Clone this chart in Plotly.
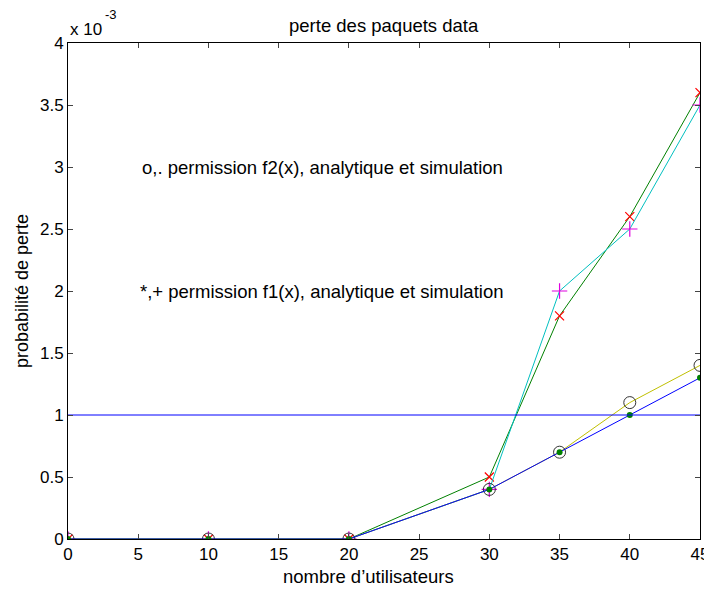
import plotly.graph_objects as go

# nombre d'utilisateurs
users = [0, 10, 20, 30, 35, 40, 45]

# probabilité de perte, en unités de 1e-3
f1_analytique = [0, 0, 0, 0.5, 1.8, 2.6, 3.6]
f1_simulation = [0, 0, 0, 0.4, 2.0, 2.5, 3.5]
f2_analytique = [0, 0, 0, 0.4, 0.7, 1.1, 1.4]
f2_simulation = [0, 0, 0, 0.4, 0.7, 1.0, 1.3]

seuil_x = [0, 45]
seuil_y = [1, 1]

x_ticks = [0, 5, 10, 15, 20, 25, 30, 35, 40, 45]
y_ticks = [0, 0.5, 1, 1.5, 2, 2.5, 3, 3.5, 4]

FONT = "Liberation Sans, Arial, sans-serif"

fig = go.Figure()

fig.add_trace(go.Scatter(
    x=users, y=f1_analytique, mode="lines+markers",
    line=dict(color="#008000", width=1),
    marker=dict(symbol="x-thin", size=9, color="red",
                line=dict(color="red", width=1.2)),
))
fig.add_trace(go.Scatter(
    x=users, y=f1_simulation, mode="lines+markers",
    line=dict(color="#00bfbf", width=1),
    marker=dict(symbol="cross-thin", size=11, color="#e000e0",
                line=dict(color="#e000e0", width=1.2)),
))
fig.add_trace(go.Scatter(
    x=users, y=f2_analytique, mode="lines+markers",
    line=dict(color="#bfbf00", width=1),
    marker=dict(symbol="circle-open", size=12, color="#333333",
                line=dict(color="#333333", width=1)),
))
fig.add_trace(go.Scatter(
    x=users, y=f2_simulation, mode="lines+markers",
    line=dict(color="#0000ff", width=1),
    marker=dict(symbol="circle", size=6, color="#008000"),
))
fig.add_trace(go.Scatter(
    x=seuil_x, y=seuil_y, mode="lines",
    line=dict(color="#0000ff", width=1),
))

# page body adds an 8px offset, so figure is 8px smaller each way
fig.update_layout(
    template="none",
    width=704, height=585,
    margin=dict(l=60, r=12, t=35, b=54, pad=0),
    paper_bgcolor="white", plot_bgcolor="white",
    showlegend=False,
    font=dict(family=FONT, size=17, color="black"),
    annotations=[
        dict(text="perte des paquets data", xref="paper", yref="paper",
             x=0.5, y=1.0, yanchor="middle", yshift=18, showarrow=False,
             font=dict(size=18.5)),
        dict(text="nombre d\u2019utilisateurs", xref="paper", yref="paper",
             x=0.475, y=0, yanchor="middle", yshift=-37, showarrow=False,
             font=dict(size=18.5)),
        dict(text="probabilité de perte", xref="paper", yref="paper",
             x=0, xanchor="center", xshift=-46, y=0.5, yanchor="middle",
             textangle=-90, showarrow=False, font=dict(size=18)),
        dict(text="x 10", xref="paper", yref="paper",
             x=0, y=1, xanchor="left", yanchor="middle", yshift=14,
             showarrow=False, font=dict(size=17)),
        dict(text="-3", xref="paper", yref="paper",
             x=0, xshift=35, y=1, xanchor="left", yanchor="middle",
             yshift=29, showarrow=False, font=dict(size=13)),
        dict(text="o,. permission f2(x), analytique et simulation",
             x=5.1, y=3.0, xanchor="left", showarrow=False,
             font=dict(size=18.5)),
        dict(text="*,+ permission f1(x), analytique et simulation",
             x=5.0, y=2.0, xanchor="left", showarrow=False,
             font=dict(size=18.5)),
    ],
)

fig.update_xaxes(
    range=[0, 45], tickvals=x_ticks, ticks="inside", ticklen=5,
    showline=True, linecolor="black", linewidth=1, mirror="allticks",
    showgrid=False, zeroline=False, automargin=False,
    tickfont=dict(size=17),
)
fig.update_yaxes(
    range=[0, 4], tickvals=y_ticks, ticks="inside", ticklen=5,
    showline=True, linecolor="black", linewidth=1, mirror="allticks",
    showgrid=False, zeroline=False, automargin=False,
    tickfont=dict(size=17),
)

fig.write_html("out.html")
